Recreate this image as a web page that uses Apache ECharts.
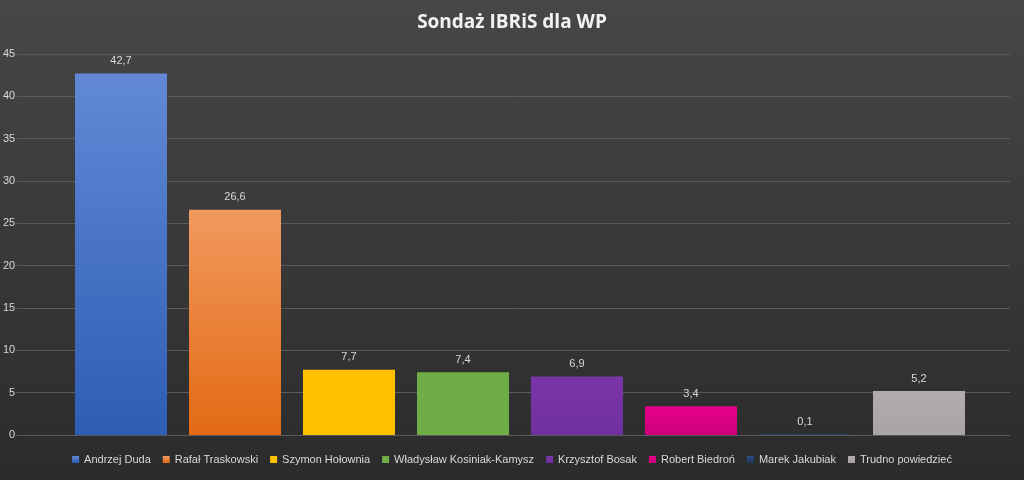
<!DOCTYPE html>
<html><head><meta charset="utf-8">
<script src="https://cdn.jsdelivr.net/npm/echarts@6/dist/echarts.min.js"></script>
<style>html,body{margin:0;padding:0;}#c{width:1024px;height:480px;}</style>
</head><body><div id="c"></div>
<script>
const categories = ['Andrzej Duda','Rafał Traskowski','Szymon Hołownia','Władysław Kosiniak-Kamysz','Krzysztof Bosak','Robert Biedroń','Marek Jakubiak','Trudno powiedzieć'];
const values = [42.7, 26.6, 7.7, 7.4, 6.9, 3.4, 0.1, 5.2];
const colorsTop = ['#6189d6','#f19a5e','#ffc000','#70ad47','#7a35a8','#e6008a','#2b4a80','#b0acac'];
const colorsBottom = ['#2e5db3','#e36a14','#ffc000','#70ad47','#7030a0','#cc007a','#1f3864','#a9a5a5'];
const chart = echarts.init(document.getElementById('c'));
const series = categories.map((name, i) => ({
  name, type: 'bar', stack: 'a', barWidth: 92,
  data: categories.map((_, j) => j === i ? values[i] : null),
  itemStyle: { color: new echarts.graphic.LinearGradient(0,0,0,1,[{offset:0,color:colorsTop[i]},{offset:1,color:colorsBottom[i]}]) },
  label: { show: true, position: 'top', color: '#d9d9d9', fontSize: 11, distance: 7,
    formatter: p => p.value == null ? '' : String(p.value).replace('.', ',') }
}));
chart.setOption({
  backgroundColor: new echarts.graphic.LinearGradient(0,0,0,1,[{offset:0,color:'#474747'},{offset:1,color:'#2b2b2b'}]),
  title: { text: 'Sondaż IBRiS dla WP', left: 'center', top: 8, textStyle: { color: '#f2f2f2', fontSize: 19, fontWeight: 'bold', fontFamily: 'Open Sans' } },
  legend: { bottom: 10, itemWidth: 7, itemHeight: 7, itemGap: 12, icon: 'rect', textStyle: { color: '#d9d9d9', fontSize: 11 }, data: categories },
  grid: [
    { left: 20, right: 14, top: 54, bottom: 45 },
    { left: 64, right: 48, top: 54, bottom: 45 }
  ],
  xAxis: [
    { type: 'value', gridIndex: 0, show: false, min: 0, max: 1 },
    { type: 'category', gridIndex: 1, data: categories, axisLabel: { show: false }, axisTick: { show: false }, axisLine: { show: false } }
  ],
  yAxis: [
    { type: 'value', gridIndex: 0, min: 0, max: 45, interval: 5, axisLabel: { color: '#d9d9d9', fontSize: 11, margin: 6 },
      axisLine: { show: false }, splitLine: { lineStyle: { color: '#5a5a5a' } } },
    { type: 'value', gridIndex: 1, min: 0, max: 45, interval: 5, show: false, splitLine: { show: false } }
  ],
  series: series.map(s => Object.assign(s, { xAxisIndex: 1, yAxisIndex: 1 }))
});
</script></body></html>
